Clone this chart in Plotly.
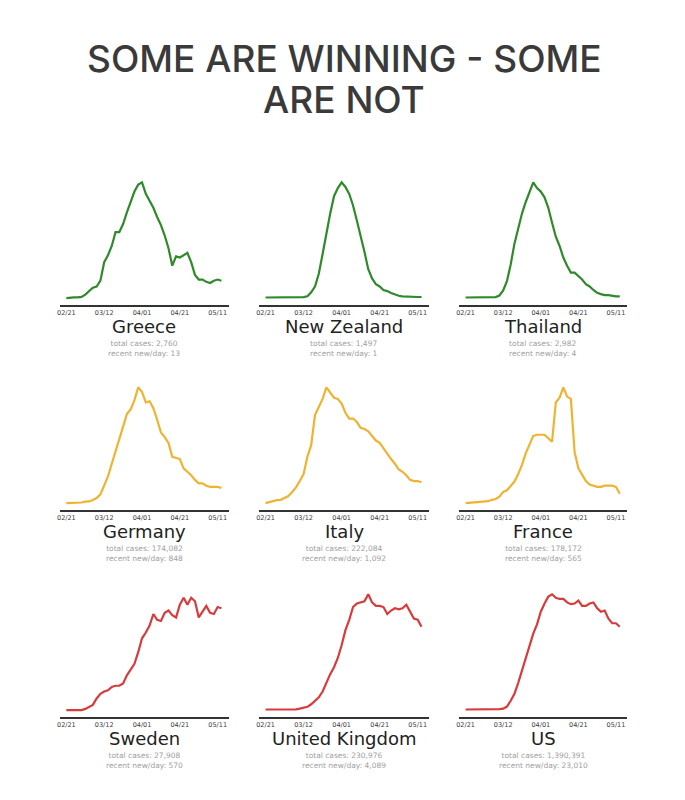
import plotly.graph_objects as go
import pandas as pd

# ---------------- data ----------------
COUNTRIES = ["Greece", "New Zealand", "Thailand",
             "Germany", "Italy", "France",
             "Sweden", "United Kingdom", "US"]

# every 2 days from 2020-02-21 to 2020-05-13 (42 points), % of each country's peak
DATES = pd.date_range("2020-02-21", periods=42, freq="2D")

GREECE = [0, 0.5, 0.6, 0.6, 1, 3, 6, 9, 10, 15, 31, 37, 45, 57, 57, 64, 74, 83, 92, 98, 100,
          90, 84, 78, 70, 63, 54, 43, 28, 36, 35, 37, 39, 31, 20, 16, 16, 14, 13, 15, 16, 15]
NEW_ZEALAND = [0.5, 0.5, 0.5, 0.5, 0.5, 0.5, 0.5, 0.5, 0.5, 0.6, 0.8, 1.5, 5, 10, 21, 38, 57, 73,
               88, 95, 100, 96, 90, 80, 67, 52, 40, 25, 17, 12, 10, 7, 6, 4.3, 3, 2, 1.5, 1.2,
               1, 1, 0.9, 0.9]
THAILAND = [0.5, 0.5, 0.5, 0.5, 0.5, 0.5, 0.5, 0.6, 0.8, 2.2, 6.6, 14.6, 29, 47, 61, 73, 83, 91,
            100, 95, 92, 87, 78, 65, 53, 45, 35, 28, 22, 22, 19, 16, 12, 10, 7, 4.5, 3.4, 2.6,
            2.5, 1.7, 1.4, 1.4]
GERMANY = [0, 0, 0.2, 0.3, 0.5, 1.2, 1.4, 2.7, 4.3, 7.5, 15, 23, 34, 44, 54, 66, 77, 81, 89,
           100, 96, 87, 88, 82, 72, 61, 57, 52, 40, 39, 38, 30, 27, 24, 20, 17, 17, 15, 14, 14,
           14, 13]
ITALY = [0, 1, 1.5, 2.5, 2.8, 4.5, 6, 9.5, 13.5, 19, 25, 40, 50, 76, 83, 90, 100, 95, 91, 90,
         86, 78, 73, 73, 70, 65, 64, 62, 58, 54, 52, 47, 43, 38, 34, 29, 27, 24, 20, 19, 19, 18]
FRANCE = [0, 0.3, 0.4, 0.5, 0.6, 1.2, 1.6, 2.8, 3.5, 5.5, 9.6, 11, 15, 18.6, 25, 33, 43, 51, 58,
          59, 59, 59, 56, 53, 87, 91, 100, 92, 90, 44, 30, 25, 19, 16, 15, 14, 14, 15, 15, 15,
          14, 8]
SWEDEN = [0, 0, 0, 0, 0, 1, 2.7, 4.5, 10, 14, 16, 17, 20, 21, 21, 23, 30, 35, 40, 50, 62, 67,
          73, 83, 78, 77, 84, 86, 82, 80, 91, 97, 91, 97, 94, 80, 85, 90, 84, 83, 89, 88]
UNITED_KINGDOM = [0.5, 0.5, 0.5, 0.5, 0.5, 0.5, 0.5, 0.6, 0.6, 1.2, 1.7, 2.8, 5, 8, 11, 16, 24,
                  31, 37, 45, 56, 69, 78, 89, 92, 93, 94, 100, 93, 90, 90, 89, 83, 86, 88, 87,
                  88, 91, 85, 79, 78, 72]
US = [0.5, 0.5, 0.5, 0.5, 0.5, 0.5, 0.5, 0.5, 0.5, 0.8, 1.2, 3, 8, 14, 23.5, 34, 45, 57, 66, 74,
      85, 92, 98, 100, 97, 96, 96, 93, 91.5, 92, 94.5, 90, 90, 92, 93, 88, 85, 86, 79, 75, 75, 72]

SERIES = [GREECE, NEW_ZEALAND, THAILAND, GERMANY, ITALY, FRANCE, SWEDEN, UNITED_KINGDOM, US]

TOTAL_CASES = ["2,760", "1,497", "2,982", "174,082", "222,084", "178,172",
               "27,908", "230,976", "1,390,391"]
RECENT_NEW = ["13", "1", "4", "848", "1,092", "565", "570", "4,089", "23,010"]

TICK_DATES = ["2020-02-21", "2020-03-12", "2020-04-01", "2020-04-21", "2020-05-11"]
TICK_LABELS = ["02/21", "03/12", "04/01", "04/21", "05/11"]

TITLE_LINES = ["SOME ARE WINNING - SOME", "ARE NOT"]

# ---------------- style ----------------
ROW_COLORS = ["#2f8a2a", "#efb331", "#d83b3b"]
W, H = 685, 800
COL_PX = [(57, 227), (257, 428), (458, 627)]   # x extents of each column (px)
ROW_BOTTOM_PX = [305, 510, 717]                  # axis line position of each row (px)
PANEL_H_PX = 125

fig = go.Figure()
annotations = []
layout_axes = {}

for i, (name, vals) in enumerate(zip(COUNTRIES, SERIES)):
    r, c = divmod(i, 3)
    n = i + 1
    xa = "x" if n == 1 else f"x{n}"
    ya = "y" if n == 1 else f"y{n}"
    fig.add_trace(go.Scatter(
        x=DATES, y=vals, mode="lines",
        line=dict(color=ROW_COLORS[r], width=2.2),
        xaxis=xa, yaxis=ya, showlegend=False, hoverinfo="skip"))

    x0, x1 = COL_PX[c]
    yb = ROW_BOTTOM_PX[r]
    xdom = [x0 / W, x1 / W]
    ydom = [1 - yb / H, 1 - (yb - PANEL_H_PX) / H]
    key = "" if n == 1 else str(n)
    layout_axes[f"xaxis{key}"] = dict(
        domain=xdom, anchor=ya, range=["2020-02-17 12:00", "2020-05-17"],
        showline=True, linecolor="#333333", linewidth=2, showgrid=False,
        zeroline=False, ticks="", tickvals=TICK_DATES, ticktext=TICK_LABELS,
        tickfont=dict(family="DejaVu Sans", size=6.5, color="#3a3a3a"),
        ticklabelstandoff=0, fixedrange=True)
    layout_axes[f"yaxis{key}"] = dict(
        domain=ydom, anchor=xa, range=[-6, 102], visible=False, fixedrange=True)

    cx = (x0 + x1) / 2 / W
    annotations.append(dict(
        text=name, x=cx, y=1 - (yb + 21) / H, xref="paper", yref="paper",
        xanchor="center", yanchor="middle", showarrow=False,
        font=dict(family="DejaVu Sans", size=18, color="#222222")))
    annotations.append(dict(
        text=f"total cases: {TOTAL_CASES[i]}<br>recent new/day: {RECENT_NEW[i]}",
        x=cx, y=1 - (yb + 43) / H, xref="paper", yref="paper",
        xanchor="center", yanchor="middle", showarrow=False,
        font=dict(family="DejaVu Sans", size=7.5, color="#a0a0a0")))

for j, (line, ypx) in enumerate(zip(TITLE_LINES, [59, 99])):
    annotations.append(dict(
        text=line, x=0.5, y=1 - ypx / H, xref="paper", yref="paper",
        xanchor="center", yanchor="middle", showarrow=False,
        font=dict(family="Inter", size=37, color="#3a3a3a", weight=500)))

fig.update_layout(
    width=W, height=H, margin=dict(l=0, r=0, t=0, b=0),
    paper_bgcolor="white", plot_bgcolor="white",
    annotations=annotations, **layout_axes)

fig.write_html("out.html")
